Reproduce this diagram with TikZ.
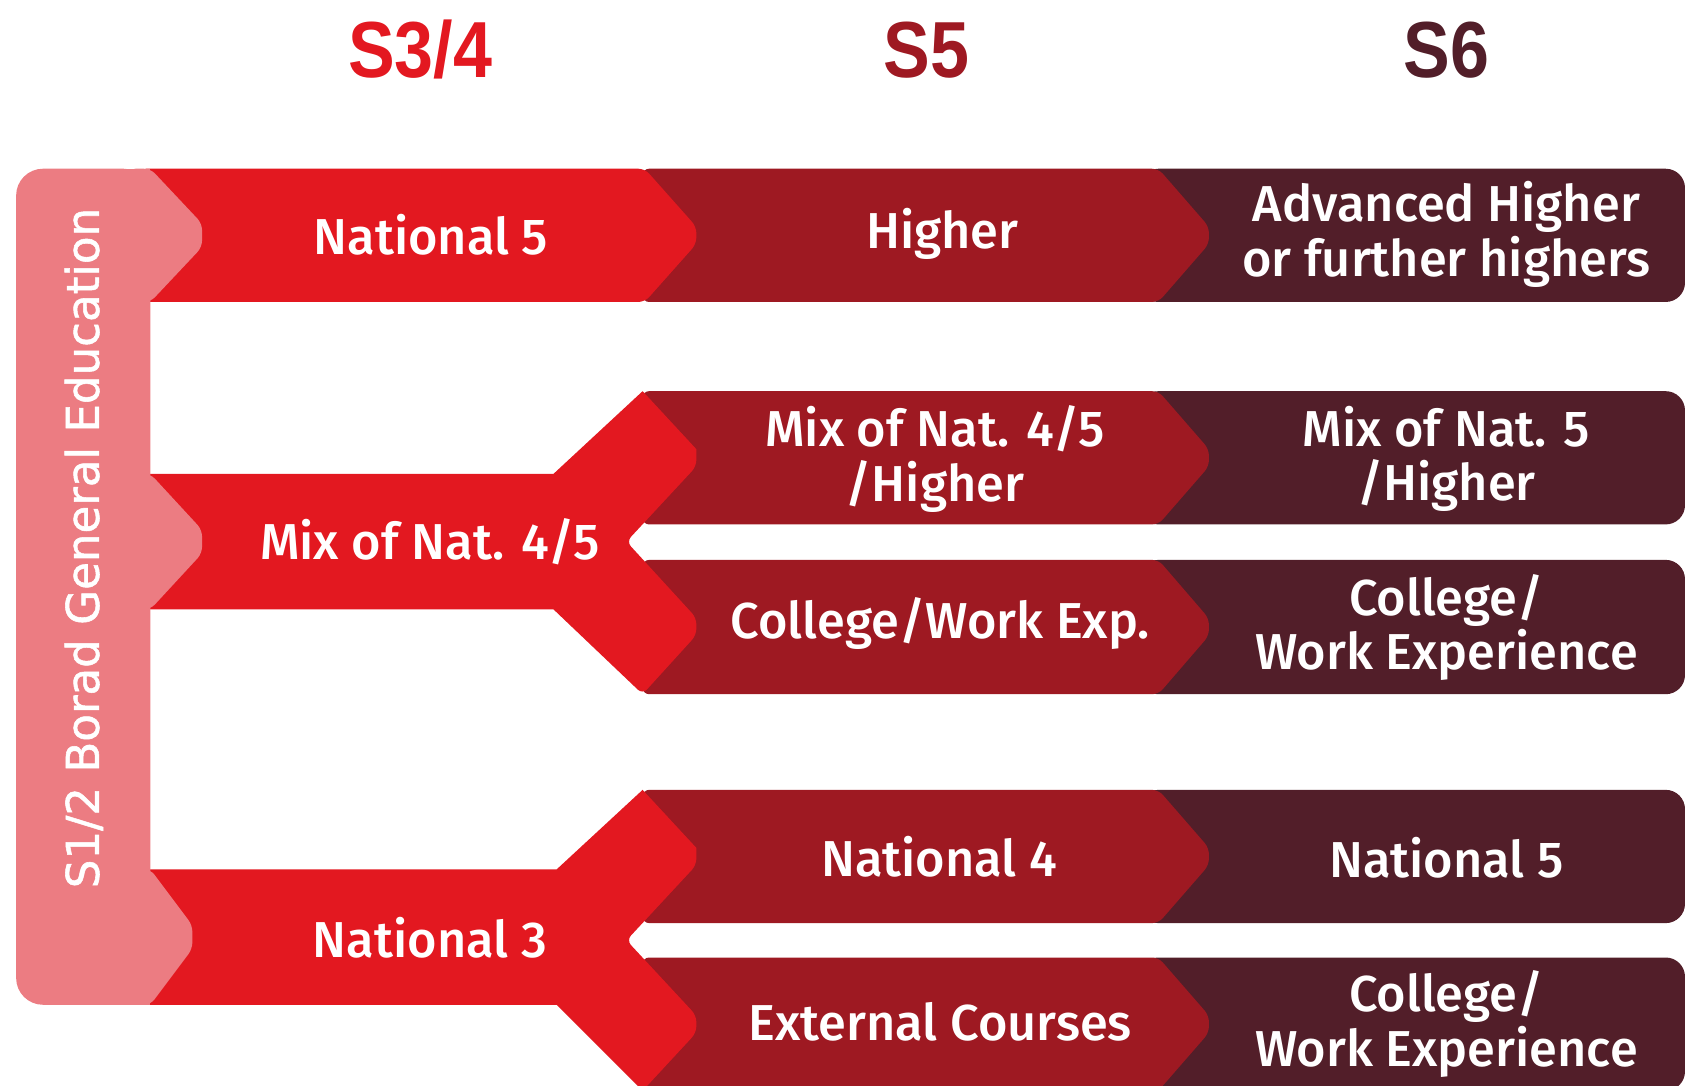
\documentclass[tikz,border=0pt]{standalone}
\usepackage{fontspec}
\newfontfamily\labfont{Fira Sans}[UprightFont=* Medium]
\newfontfamily\vfont{DejaVu Sans}[FakeBold=1.2]
\newfontfamily\hdrfont{Liberation Sans}[UprightFont=* Bold]
\definecolor{cRed}{HTML}{E31820}
\definecolor{cDark}{HTML}{9E1922}
\definecolor{cDeep}{HTML}{521E29}
\definecolor{cPink}{HTML}{EC7C82}
\begin{document}
\begin{tikzpicture}[x=1pt,y=-1pt,
  lab/.style={text=white, font=\labfont\fontsize{47}{51}\selectfont, align=center, inner sep=0pt},
  vlab/.style={text=white, font=\vfont\fontsize{42}{42}\selectfont, inner sep=0pt, rotate=90},
  hdr/.style={font=\hdrfont\fontsize{74}{74}\selectfont, inner sep=0pt, anchor=base, xscale=0.88},
  tipr/.style={rounded corners=6}]
\useasboundingbox (0,0) rectangle (1568,1010);
\clip (0,0) rectangle (1568,1010);
% headers
\node[hdr, text=cRed]  (h1) at (391,72)  {S3/4};
\node[hdr, text=cDark] (h2) at (862,72)  {S5};
\node[hdr, text=cDeep] (h3) at (1346,72) {S6};
% S6 bands
\foreach \t/\b in {157/281, 364/488, 521/646, 735/859, 891/1015}
  \fill[cDeep, rounded corners=18] (1060,\t) rectangle (1568,\b);
% S5 bands with chevrons
\foreach \t/\b/\c in {157/281/219, 364/488/426, 521/646/583.5, 735/859/797, 891/1015/953}
  \fill[cDark, tipr] (598,\t) -- (1078,\t) -- (1125,\c-8) -- (1125,\c+8) -- (1078,\b) -- (598,\b) -- cycle;
% S3/4 red shapes
\fill[cRed, tipr] (130,157) -- (600,157) -- (648,211) -- (648,227) -- (600,281) -- (130,281) -- cycle;
\fill[cRed] (130,441) -- (515,441) -- (598,364) -- (648,418) [rounded corners=6] -- (648,434) -- (583,504)
   -- (648,575) -- (648,591) -- (598,646) [sharp corners] -- (515,567) -- (130,567) -- cycle;
\fill[cRed] (130,809) -- (518,809) -- (598,735) -- (648,789) [rounded corners=6] -- (648,805) -- (583,875)
   -- (648,945) -- (648,961) -- (598,1015) [sharp corners] -- (518,935) -- (130,935) -- cycle;
% pink bar
\fill[cPink, rounded corners=25] (15,157) rectangle (140,935);
\fill[cPink] (100,157) rectangle (140,935);
\foreach \t/\b/\c/\x in {157/281/219/188, 441/567/504/188, 809/935/872/179}
  \fill[cPink, tipr] (120,\t) -- (140,\t) -- (\x,\c-11) -- (\x,\c+11) -- (140,\b) -- (120,\b) -- cycle;
% labels
\node[vlab] (bge) at (78,510) {S1/2 Borad General Education};
\node[lab] (a1) at (401,218) {National 5};
\node[lab] (a2) at (400,504) {Mix of Nat. 4/5};
\node[lab] (a3) at (400,873) {National 3};
\node[lab] (b1) at (877,218) {Higher};
\node[lab] (b2) at (870,427) {Mix of Nat. 4/5\\/Higher};
\node[lab] (b3) at (875,580) {College/Work Exp.};
\node[lab] (b4) at (874,797) {National 4};
\node[lab] (b5) at (875,951) {External Courses};
\node[lab] (c1) at (1346,218) {Advanced Higher\\or further highers};
\node[lab] (c2) at (1346,427) {Mix of Nat. 5\\/Higher};
\node[lab] (c3) at (1346,584) {College/\\Work Experience};
\node[lab] (c4) at (1346,798) {National 5};
\node[lab] (c5) at (1346,953) {College/\\Work Experience};
\end{tikzpicture}
\end{document}
